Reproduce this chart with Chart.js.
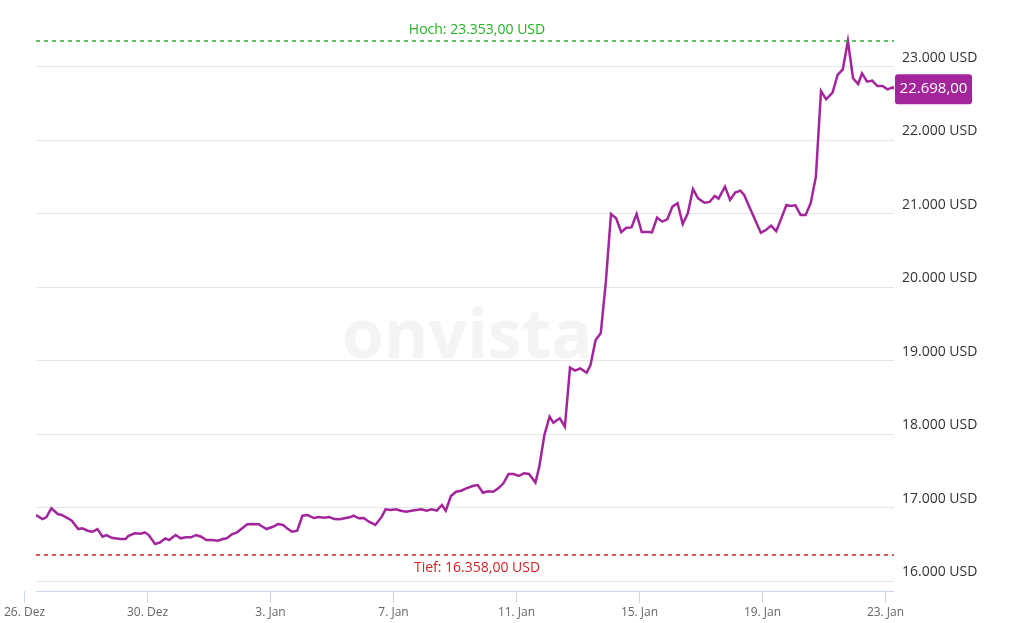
<!DOCTYPE html>
<html>
<head>
<meta charset="utf-8">
<script src="https://cdn.jsdelivr.net/npm/chart.js"></script>
<style>
  html, body { margin: 0; padding: 0; background: #fff; }
  #wrap { width: 1024px; height: 623px; }
</style>
</head>
<body>
<div id="wrap"><canvas id="myChart" width="1024" height="623"></canvas></div>
<script>
// hours since 26. Dez 00:00
const hours = [9, 14, 17, 21, 26, 29, 34, 37, 42, 45, 50, 53, 57, 61, 64, 68, 75, 79, 81, 86, 91, 94, 97, 102, 106, 110, 113, 118, 122, 126, 130, 134, 138, 142, 146, 151, 155, 158, 162, 166, 170, 174, 178, 183, 186, 189, 194, 198, 202, 205, 209, 213, 217, 221, 226, 230, 234, 238, 242, 246, 250, 254, 257, 261, 265, 269, 274, 279, 282, 286, 290, 294, 298, 302, 306, 310, 314, 318, 322, 326, 329, 333, 337, 341, 345, 350, 354, 358, 362, 366, 370, 374, 378, 382, 386, 390, 394, 399, 402, 406, 410, 413, 418, 422, 426, 430, 434, 439, 442, 446, 450, 454, 458, 462, 466, 470, 474, 478, 482, 487, 490, 494, 498, 502, 506, 510, 514, 518, 522, 526, 531, 535, 539, 542, 547, 551, 555, 559, 562, 566, 570, 575, 579, 583, 587, 590, 595, 598, 602, 606, 610, 614, 618, 622, 626, 631, 635, 639, 643, 647, 651, 654, 658, 662, 666, 670, 674, 678, 679];
const prices = [16899, 16844, 16867, 16990, 16912, 16899, 16854, 16821, 16708, 16717, 16681, 16671, 16708, 16603, 16626, 16589, 16572, 16572, 16613, 16649, 16644, 16663, 16626, 16504, 16527, 16581, 16558, 16626, 16581, 16595, 16595, 16626, 16603, 16558, 16558, 16549, 16572, 16581, 16636, 16663, 16717, 16772, 16776, 16772, 16739, 16708, 16739, 16776, 16763, 16717, 16671, 16685, 16889, 16899, 16858, 16872, 16862, 16872, 16844, 16840, 16854, 16867, 16889, 16854, 16858, 16808, 16763, 16876, 16976, 16967, 16976, 16958, 16944, 16958, 16967, 16976, 16958, 16976, 16958, 17035, 16958, 17158, 17216, 17230, 17262, 17294, 17307, 17202, 17221, 17216, 17262, 17330, 17457, 17457, 17430, 17467, 17457, 17340, 17557, 17988, 18238, 18156, 18216, 18102, 18905, 18864, 18896, 18837, 18942, 19282, 19373, 20076, 20998, 20939, 20750, 20810, 20815, 20998, 20752, 20753, 20748, 20948, 20894, 20926, 21098, 21144, 20862, 21008, 21339, 21212, 21152, 21162, 21243, 21207, 21370, 21189, 21289, 21316, 21257, 21098, 20939, 20743, 20780, 20839, 20764, 20894, 21121, 21107, 21117, 20985, 20985, 21148, 21507, 22673, 22560, 22650, 22891, 22968, 23353, 22846, 22768, 22914, 22800, 22814, 22741, 22741, 22696, 22723, 22698];

const xTickHours = [0, 96, 192, 288, 384, 480, 576, 672];
const xTickLabels = ["26. Dez", "30. Dez", "3. Jan", "7. Jan", "11. Jan", "15. Jan", "19. Jan", "23. Jan"];
const yTicks = [16000, 17000, 18000, 19000, 20000, 21000, 22000, 23000];

const highValue = 23353;
const lowValue = 16358;
const lastValue = 22698;

const LINE_COLOR = "#a3259c";
const FONT = "'Open Sans', 'DejaVu Sans', sans-serif";

function formatDe(value, decimals) {
  const parts = value.toFixed(decimals).split(".");
  const intPart = parts[0].replace(/\B(?=(\d{3})+(?!\d))/g, ".");
  return parts.length > 1 ? intPart + "," + parts[1] : intPart;
}

const watermark = {
  id: "watermark",
  beforeDatasetsDraw(chart) {
    const { ctx, chartArea } = chart;
    ctx.save();
    ctx.font = "bold 68px " + FONT;
    ctx.fillStyle = "#f4f4f4";
    ctx.textAlign = "center";
    ctx.textBaseline = "alphabetic";
    ctx.fillText("onvista", (chartArea.left + chartArea.right) / 2 + 2, 358);
    ctx.restore();
  },
};

const extras = {
  id: "extras",
  afterDraw(chart) {
    const { ctx, chartArea, scales } = chart;
    const x = scales.x;
    const y = scales.y;
    ctx.save();

    // x axis line, ticks and labels
    const axisY = chartArea.bottom;
    ctx.strokeStyle = "#ccd6eb";
    ctx.lineWidth = 1;
    ctx.beginPath();
    ctx.moveTo(chartArea.left, axisY + 0.5);
    ctx.lineTo(chartArea.right, axisY + 0.5);
    ctx.stroke();
    ctx.font = "12px " + FONT;
    ctx.fillStyle = "#666666";
    ctx.textAlign = "center";
    ctx.textBaseline = "middle";
    xTickHours.forEach((h, i) => {
      const px = Math.round(x.getPixelForValue(h)) + 0.5;
      ctx.beginPath();
      ctx.moveTo(px, axisY);
      ctx.lineTo(px, axisY + 12);
      ctx.stroke();
      ctx.fillText(xTickLabels[i], px, axisY + 22);
    });

    // high / low lines
    const midX = (chartArea.left + chartArea.right) / 2 + 12;
    const drawLevel = (value, color, text, above) => {
      const py = Math.round(y.getPixelForValue(value));
      ctx.strokeStyle = color;
      ctx.lineWidth = 1.5;
      ctx.setLineDash([4, 4]);
      ctx.beginPath();
      ctx.moveTo(chartArea.left, py);
      ctx.lineTo(chartArea.right, py);
      ctx.stroke();
      ctx.setLineDash([]);
      ctx.fillStyle = color;
      ctx.font = "14px " + FONT;
      ctx.textAlign = "center";
      ctx.textBaseline = "middle";
      ctx.fillText(text, midX, above ? py - 11 : py + 13);
    };
    drawLevel(highValue, "#22b422", "Hoch: " + formatDe(highValue, 2) + " USD", true);
    drawLevel(lowValue, "#d61f1f", "Tief: " + formatDe(lowValue, 2) + " USD", false);

    // last value tag
    const ty = y.getPixelForValue(lastValue);
    const tx = chartArea.right + 1;
    ctx.fillStyle = LINE_COLOR;
    ctx.beginPath();
    ctx.roundRect(tx, ty - 15, 77, 30, 3);
    ctx.fill();
    ctx.fillStyle = "#ffffff";
    ctx.font = "15px " + FONT;
    ctx.textAlign = "center";
    ctx.textBaseline = "middle";
    ctx.fillText(formatDe(lastValue, 2), tx + 38.5, ty);
    ctx.restore();
  },
};

const ctx = document.getElementById("myChart").getContext("2d");
new Chart(ctx, {
  type: "line",
  data: {
    datasets: [
      {
        data: hours.map((h, i) => ({ x: h, y: prices[i] })),
        borderColor: LINE_COLOR,
        borderWidth: 2.5,
        pointRadius: 0,
        tension: 0,
        fill: false,
      },
    ],
  },
  options: {
    responsive: false,
    animation: false,
    devicePixelRatio: 1,
    layout: { padding: { left: 36, top: 5, right: 0, bottom: 32 } },
    plugins: {
      legend: { display: false },
      tooltip: { enabled: false },
    },
    scales: {
      x: {
        type: "linear",
        display: false,
        min: hours[0],
        max: hours[hours.length - 1],
      },
      y: {
        position: "right",
        min: 15864,
        max: 23844,
        afterBuildTicks: (scale) => {
          scale.ticks = yTicks.map((v) => ({ value: v }));
        },
        afterFit: (scale) => {
          scale.width = 130;
          scale.paddingTop = 0;
          scale.paddingBottom = 0;
        },
        border: { display: false },
        grid: { color: "#e6e6e6", lineWidth: 1, drawTicks: false },
        ticks: {
          padding: 8,
          labelOffset: -9,
          color: "#333333",
          font: { family: FONT, size: 14 },
          callback: (value) => formatDe(value, 0) + " USD",
        },
      },
    },
  },
  plugins: [watermark, extras],
});
</script>
</body>
</html>
